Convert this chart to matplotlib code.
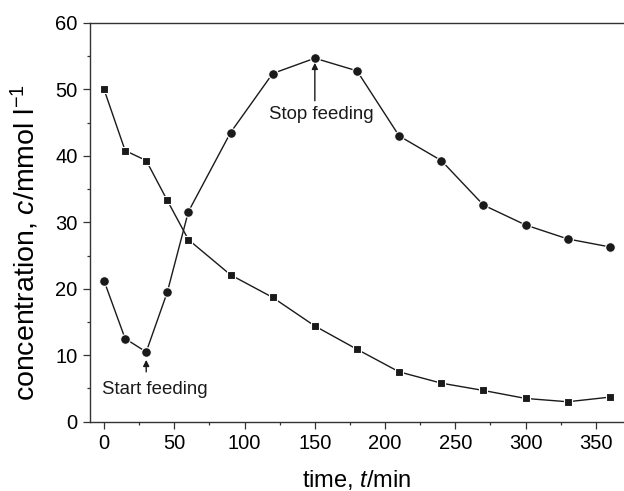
import matplotlib.pyplot as plt
from matplotlib.ticker import MultipleLocator

plt.rcParams["font.family"] = ["Liberation Sans", "DejaVu Sans"]
plt.rcParams["mathtext.fontset"] = "custom"
plt.rcParams["mathtext.it"] = "Liberation Sans:italic"
plt.rcParams["mathtext.rm"] = "Liberation Sans"

time_min = [0, 15, 30, 45, 60, 90, 120, 150, 180, 210, 240, 270, 300, 330, 360]
squares = [50.0, 40.8, 39.3, 33.3, 27.4, 22.1, 18.7, 14.4, 10.9, 7.5, 5.8, 4.7, 3.5, 3.0, 3.7]
circles = [21.2, 12.5, 10.5, 19.5, 31.6, 43.5, 52.4, 54.7, 52.8, 43.0, 39.3, 32.6, 29.6, 27.5, 26.3]

INK = "#1a1a1a"
SPINE = "#333333"

fig = plt.figure(figsize=(6.24, 4.91), dpi=100)
ax = fig.add_axes([90 / 624, 1 - 421.7 / 491, 534 / 624, (421.7 - 23) / 491])

ax.plot(time_min, squares, color=INK, lw=1.0, marker="s", ms=6,
        mfc=INK, mec="white", mew=0.8)
ax.plot(time_min, circles, color=INK, lw=1.0, marker="o", ms=7,
        mfc=INK, mec="white", mew=0.8)

ax.set_xlim(-10, 370)
ax.set_ylim(0, 60)
ax.xaxis.set_major_locator(MultipleLocator(50))
ax.xaxis.set_minor_locator(MultipleLocator(25))
ax.yaxis.set_major_locator(MultipleLocator(10))
ax.yaxis.set_minor_locator(MultipleLocator(5))

ax.spines["right"].set_visible(False)
for side in ["left", "bottom", "top"]:
    ax.spines[side].set_color(SPINE)
    ax.spines[side].set_linewidth(1.0)

ax.tick_params(which="major", direction="out", length=5, width=0.9,
               color=SPINE, labelsize=14.5, pad=4)
ax.tick_params(which="minor", direction="out", length=2.5, width=0.9, color=SPINE)
ax.tick_params(top=False, right=False, which="both")

ax.set_xlabel("time, $t$/min", fontsize=17, va="center")
ax.xaxis.set_label_coords(0.5, (421.7 - 480) / 398.7)
ax.set_ylabel("concentration, $c$/mmol l$^{-1}$", fontsize=20.5, va="center")
ax.yaxis.set_label_coords((25 - 90) / 534, (421.7 - 242) / 398.7)

ax.text(154.5, 46.3, "Stop feeding", fontsize=13.4, ha="center", va="center", color=INK)
ax.annotate("", xy=(150, 54.0), xytext=(150, 48.3),
            arrowprops=dict(arrowstyle="-|>", color=INK, lw=1.0,
                            mutation_scale=9, shrinkA=0, shrinkB=0))
ax.text(36.4, 4.9, "Start feeding", fontsize=13.4, ha="center", va="center", color=INK)
ax.annotate("", xy=(30, 9.3), xytext=(30, 7.5),
            arrowprops=dict(arrowstyle="-|>", color=INK, lw=1.0,
                            mutation_scale=9, shrinkA=0, shrinkB=0))

fig.savefig("out.png", dpi=100)
